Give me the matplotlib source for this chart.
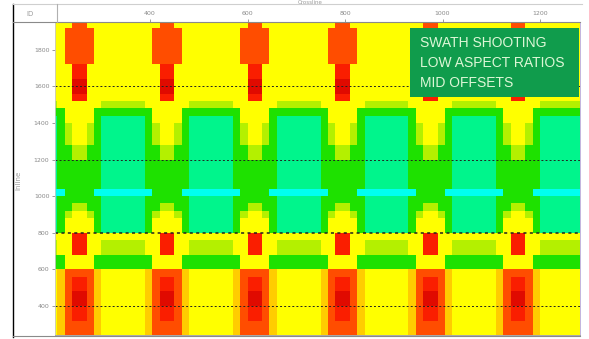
import numpy as np
import matplotlib
matplotlib.use('Agg')
import matplotlib.pyplot as plt
from matplotlib.colors import ListedColormap
from matplotlib.patches import Rectangle
from matplotlib.lines import Line2D

# fold classes (low -> high) and their colours
classes = ['C', 'S', 'G', 'L', 'Y', 'A', 'O', 'R', 'D']
class_colors = ['#00FFF0', '#00F58C', '#1EE100', '#B4F000', '#FFFF00',
                '#FFCC00', '#FF4D00', '#FA1E00', '#E00A00']

# one repeat of the swath pattern, read top row first (12 bins across, 40 m rows)
period_rows = [
    'YYYYYOOYYYYY',
    'YYYYOOOOYYYY',
    'YYYYOOOOYYYY',
    'YYYYOOOOYYYY',
    'YYYYOOOOYYYY',
    'YYYYOOOOYYYY',
    'YYYYYRRYYYYY',
    'YYYYYRRYYYYY',
    'YYYYYDDYYYYY',
    'YYYYYDDYYYYY',
    'YYYYYRRYYYYY',
    'LLLYYYYYYLLL',
    'GGGGYYYYGGGG',
    'SSSGYYYYGSSS',
    'SSSGLYYLGSSS',
    'SSSGLYYLGSSS',
    'SSSGLYYLGSSS',
    'SSSGGLLGGSSS',
    'SSSGGLLGGSSS',
    'SSSGGGGGGSSS',
    'SSSGGGGGGSSS',
    'SSSGGGGGGSSS',
    'SSSGGGGGGSSS',
    'CCCCGGGGCCCC',
    'SSSGGGGGGSSS',
    'SSSGGLLGGSSS',
    'SSSGLYYLGSSS',
    'SSSGYYYYGSSS',
    'SSSGYYYYGSSS',
    'YYYYYRRYYYYY',
    'LLLYYRRYYLLL',
    'LLLYYRRYYLLL',
    'GGGGYYYYGGGG',
    'GGGGYYYYGGGG',
    'YYYAOOOOAYYY',
    'YYYAORROAYYY',
    'YYYAORROAYYY',
    'YYYAODDOAYYY',
    'YYYAODDOAYYY',
    'YYYAORROAYYY',
    'YYYAORROAYYY',
    'YYYAOOOOAYYY',
    'YYYAOOOOAYYY',
    'YYYAOOOOAYYY',
]
n_periods = 7
bin_x = 15.0
bin_y = 40.0
x_start = 165.0
y_top = 1960.0

x_ticks = [400, 600, 800, 1000, 1200]
y_ticks = [400, 600, 800, 1000, 1200, 1400, 1600, 1800]
receiver_lines = [400, 800, 1200, 1600]
note_lines = ['SWATH SHOOTING', 'LOW ASPECT RATIOS', 'MID OFFSETS']

codes = np.array([[classes.index(c) for c in row] for row in period_rows])
grid = np.tile(codes, (1, n_periods))
xedges = x_start + bin_x * np.arange(grid.shape[1] + 1)
yedges = y_top - bin_y * np.arange(grid.shape[0] + 1)

W, H = 589, 339
fig = plt.figure(figsize=(W / 100, H / 100), dpi=100)
fig.patch.set_facecolor('white')
ax = fig.add_axes([55 / W, 4 / H, 525 / W, 313 / H])

cmap = ListedColormap(class_colors)
ax.pcolormesh(xedges, yedges, grid, cmap=cmap, vmin=-0.5, vmax=len(classes) - 0.5)

for y in receiver_lines:
    lw = 1.1 if y == 800 else 0.7
    ax.axhline(y, color='#222222', lw=lw, ls=(0, (2, 2.2)))

ax.set_xlim(205, 1282)
ax.set_ylim(241, 1952)
ax.xaxis.tick_top()
ax.set_xticks(x_ticks)
ax.set_yticks(y_ticks)
ax.tick_params(axis='both', labelsize=4.5, labelcolor='#8a8a8a', color='#8a8a8a',
               length=2.5, width=0.6, pad=1.5)
for s in ax.spines.values():
    s.set_color('#9a9a9a')
    s.set_linewidth(0.6)
ax.spines['left'].set_color('#c8c8c8')
ax.spines['right'].set_color('#b8a8d8')

fig.text(18 / W, 1 - 180 / H, 'Inline', fontsize=5, color='#9a9a9a', rotation=90,
         ha='center', va='center')
fig.text(310 / W, 1 - 3 / H, 'Crossline', fontsize=4, color='#9a9a9a', ha='center', va='center')
fig.text(30 / W, 1 - 14 / H, 'ID', fontsize=5, color='#9a9a9a', ha='center', va='center')

# table-style frame around the map
fig.add_artist(Line2D([13 / W, 13 / W], [1 - 4 / H, 1 - 337 / H], color='black', lw=1.0))
fig.add_artist(Line2D([13 / W, 582 / W], [1 - 4 / H, 1 - 4 / H], color='#cfcfcf', lw=0.8))
fig.add_artist(Line2D([13 / W, 580 / W], [1 - 22 / H, 1 - 22 / H], color='#8a8a8a', lw=0.8))
fig.add_artist(Line2D([13 / W, 580 / W], [1 - 336 / H, 1 - 336 / H], color='#8a8a8a', lw=0.8))
fig.add_artist(Line2D([57 / W, 57 / W], [1 - 4 / H, 1 - 22 / H], color='#b0b0b0', lw=0.8))

# annotation box
fig.add_artist(Rectangle((410 / W, 1 - 97 / H), 169 / W, 69 / H, transform=fig.transFigure,
                         facecolor='#109C4C', edgecolor='none'))
for i, line in enumerate(note_lines):
    fig.text(420 / W, 1 - (43 + 20 * i) / H, line, fontsize=10, color='#DDF7D6',
             family='Liberation Sans', ha='left', va='center')

fig.savefig('out.png', dpi=100)
